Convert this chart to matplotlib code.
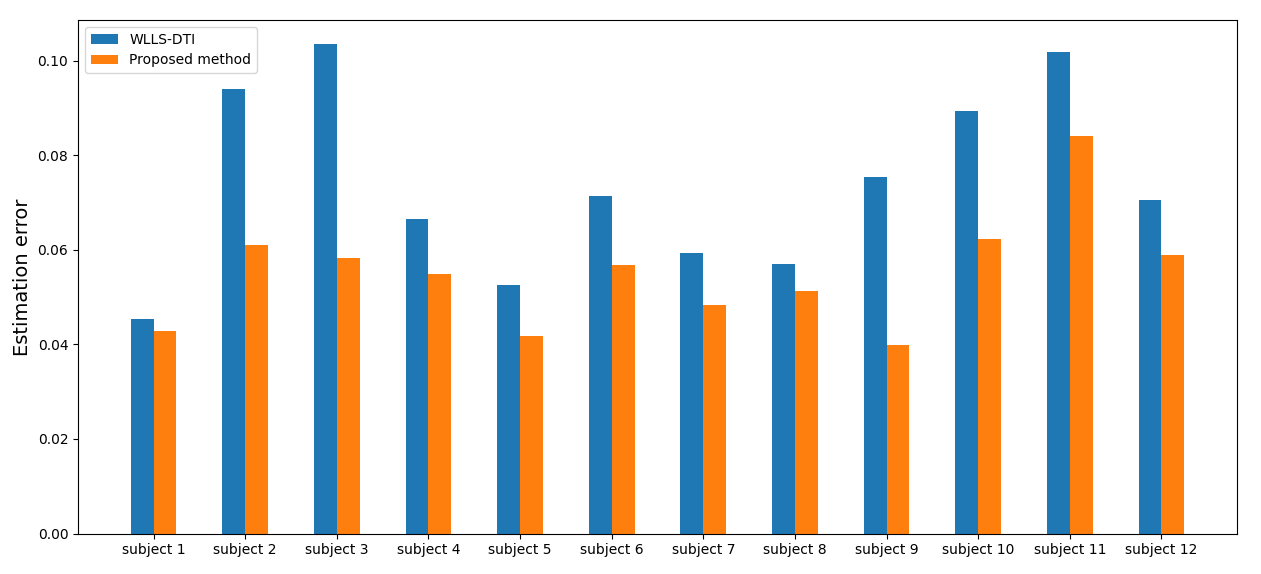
import matplotlib
matplotlib.use("Agg")
import matplotlib.pyplot as plt
import numpy as np

categories = [f"subject {i}" for i in range(1, 13)]
wlls = [0.0453, 0.0940, 0.1035, 0.0665, 0.0525, 0.0714, 0.0593, 0.0570, 0.0754, 0.0895, 0.1020, 0.0705]
proposed = [0.0428, 0.0610, 0.0583, 0.0549, 0.0419, 0.0568, 0.0483, 0.0513, 0.0398, 0.0623, 0.0841, 0.0589]

fig = plt.figure(figsize=(12.61, 5.74), dpi=100)
ax = fig.add_axes([78/1261, 1-533.5/574, (1237-78)/1261, (533.5-20)/574])
x = np.arange(len(categories))
w = 0.25
ax.bar(x - w/2, wlls, w, label="WLLS-DTI", color="#1f77b4")
ax.bar(x + w/2, proposed, w, label="Proposed method", color="#ff7f0e")
ax.set_xticks(x)
ax.set_xticklabels(categories)
ax.set_ylabel("Estimation error", fontsize=14)
ax.legend(loc="upper left")
fig.savefig("out.png", dpi=100)
